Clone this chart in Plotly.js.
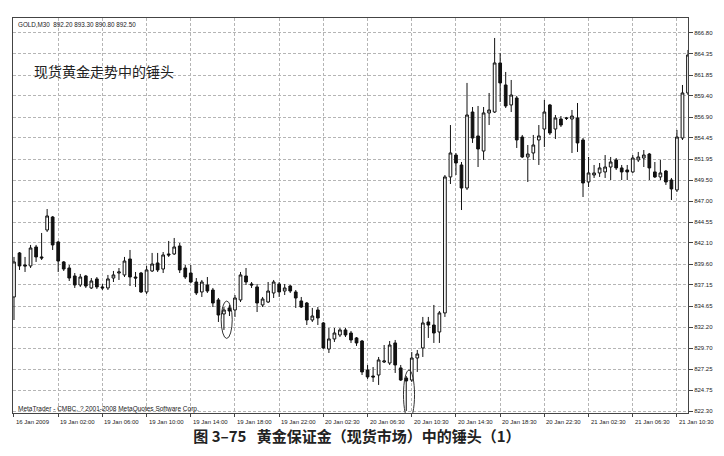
<!DOCTYPE html>
<html>
<head>
<meta charset="utf-8">
<script src="https://cdn.plot.ly/plotly-3.0.1.min.js"></script>
<style>
  html, body { margin: 0; padding: 0; background: #ffffff; }
  #chart { width: 724px; height: 456px; }
</style>
</head>
<body>
<div id="chart"></div>
<script>
// ---- data (GOLD, M30) ----
const opens = [835.74, 840.92, 839.50, 839.39, 841.62, 840.45, 843.62, 845.15, 842.21, 839.86,
  839.15, 838.21, 837.15, 838.21, 836.80, 837.86, 836.92, 836.80, 837.97, 838.56,
  838.33, 840.21, 838.09, 838.56, 836.33, 838.80, 839.74, 839.03, 840.80, 840.80,
  841.74, 839.15, 838.56, 837.50, 836.33, 837.15, 836.56, 835.39, 833.74, 834.45,
  834.21, 835.39, 838.21, 837.27, 836.92, 834.80, 835.15, 836.21, 837.27, 836.44,
  837.03, 836.33, 835.27, 835.03, 833.03, 834.21, 832.68, 829.62, 830.80, 831.27,
  831.86, 831.50, 830.92, 830.56, 827.15, 826.44, 826.56, 828.09, 827.97, 830.33,
  827.39, 826.21, 825.97, 828.56, 829.74, 832.80, 832.44, 831.62, 833.86, 849.86,
  852.44, 851.27, 848.56, 857.50, 854.68, 852.91, 857.39, 857.50, 863.27, 860.68,
  858.33, 859.15, 854.56, 852.21, 852.68, 854.21, 855.50, 858.33, 855.50, 856.68,
  856.80, 856.68, 856.80, 854.21, 849.27, 850.09, 850.33, 850.45, 851.03, 851.86,
  850.92, 850.68, 850.45, 851.86, 852.09, 852.56, 850.45, 849.86, 850.56, 849.50,
  848.33, 854.44, 859.74];
const highs = [840.45, 841.03, 840.45, 841.86, 841.86, 843.27, 846.09, 845.27, 842.33, 839.97,
  839.50, 838.56, 838.45, 838.33, 837.97, 838.09, 837.27, 838.33, 838.80, 839.15,
  840.45, 841.27, 838.68, 838.68, 839.39, 840.92, 840.92, 841.03, 842.33, 842.68,
  842.09, 839.50, 839.50, 837.97, 837.74, 838.09, 836.80, 835.62, 834.56, 834.80,
  835.97, 838.68, 839.15, 837.50, 837.27, 835.74, 837.50, 837.74, 837.50, 837.27,
  837.15, 836.56, 835.74, 835.15, 834.45, 834.56, 832.80, 832.09, 832.09, 832.09,
  832.09, 831.74, 831.03, 830.68, 827.74, 827.50, 828.68, 830.09, 830.56, 830.68,
  827.74, 826.44, 829.27, 829.50, 833.39, 833.39, 834.80, 834.09, 850.09, 855.97,
  852.68, 851.62, 860.92, 858.09, 858.21, 858.09, 859.74, 866.21, 864.45, 862.21,
  861.27, 859.39, 854.80, 853.62, 854.80, 855.97, 858.92, 858.45, 857.15, 857.03,
  856.92, 857.74, 858.56, 854.44, 852.21, 851.27, 851.50, 852.44, 852.21, 852.09,
  851.27, 851.27, 852.44, 852.80, 853.03, 852.68, 851.62, 851.86, 850.68, 849.74,
  855.39, 860.68, 864.80];
const lows = [833.03, 838.92, 838.68, 839.15, 839.86, 840.09, 843.39, 841.27, 838.68, 838.80,
  837.62, 836.80, 836.92, 836.80, 836.68, 836.68, 836.56, 836.56, 837.50, 837.74,
  838.09, 837.03, 836.92, 836.21, 836.09, 838.68, 838.68, 838.56, 840.45, 840.68,
  838.56, 837.86, 837.39, 835.97, 835.74, 836.21, 834.56, 832.80, 831.86, 833.50,
  833.39, 835.15, 837.15, 836.80, 833.97, 834.56, 835.03, 835.62, 835.74, 835.97,
  836.21, 834.45, 834.45, 832.44, 832.80, 832.44, 829.62, 829.15, 830.45, 831.03,
  831.03, 830.33, 829.98, 826.56, 826.09, 825.74, 825.39, 827.97, 827.74, 826.80,
  825.86, 822.33, 825.74, 826.92, 828.68, 830.92, 830.33, 830.33, 833.39, 849.03,
  850.09, 845.97, 848.33, 853.86, 851.03, 851.86, 855.97, 857.39, 858.68, 857.97,
  857.50, 853.27, 852.09, 849.27, 851.86, 851.27, 853.39, 854.80, 854.33, 855.74,
  856.56, 852.68, 852.80, 847.50, 848.68, 849.74, 849.86, 849.74, 849.50, 850.68,
  849.50, 849.50, 850.33, 851.62, 851.03, 849.50, 849.74, 849.50, 848.92, 847.15,
  848.09, 854.21, 859.50];
const closes = [839.86, 839.39, 839.39, 841.50, 840.45, 840.33, 845.27, 841.86, 839.97, 839.03,
  837.97, 837.15, 838.09, 837.03, 837.62, 836.92, 836.80, 837.86, 838.33, 838.68,
  839.97, 838.09, 837.97, 836.33, 838.92, 839.62, 838.92, 840.68, 840.68, 841.62,
  838.92, 838.09, 837.50, 836.21, 837.50, 836.44, 835.03, 833.62, 834.21, 834.09,
  835.62, 838.33, 837.50, 837.15, 835.03, 835.50, 836.44, 837.50, 836.33, 836.80,
  836.44, 835.62, 834.56, 833.03, 833.50, 833.27, 829.74, 830.80, 831.50, 831.86,
  831.27, 830.68, 830.33, 826.92, 826.33, 826.33, 828.33, 828.21, 830.09, 827.74,
  825.97, 825.86, 828.56, 829.03, 832.68, 832.44, 831.50, 833.86, 849.86, 852.68,
  851.50, 848.56, 857.15, 854.44, 853.15, 857.39, 857.74, 863.27, 860.92, 858.21,
  859.50, 854.21, 852.21, 852.56, 853.62, 854.68, 857.50, 855.03, 856.80, 855.97,
  856.76, 857.03, 853.86, 849.15, 850.33, 850.33, 850.92, 851.03, 851.62, 850.92,
  850.45, 850.45, 852.09, 852.21, 852.44, 850.92, 849.86, 850.33, 849.27, 848.45,
  854.56, 859.74, 864.21];

const tickBars = [0, 8, 16, 24, 32, 40, 48, 56, 64, 72, 80, 88, 96, 104, 112, 120];
const tickLabels = ["16 Jan 2009", "19 Jan 02:00", "19 Jan 06:00", "19 Jan 10:00", "19 Jan 14:00",
  "19 Jan 18:00", "19 Jan 22:00", "20 Jan 02:30", "20 Jan 06:30", "20 Jan 10:30", "20 Jan 14:30",
  "20 Jan 18:30", "20 Jan 22:30", "21 Jan 02:30", "21 Jan 06:30", "21 Jan 10:30"];
const priceTicks = [822.30, 824.75, 827.25, 829.70, 832.20, 834.65, 837.15, 839.60, 842.10, 844.55,
  847.00, 849.50, 851.95, 854.45, 856.90, 859.40, 861.85, 864.35, 866.80];
const hammerBars = [38, 71];

const headerText = "GOLD,M30  892.20 893.30 890.80 892.50";
const noteText = "现货黄金走势中的锤头";
const footerText = "MetaTrader - CMBC, ? 2001-2008 MetaQuotes Software Corp.";
const captionText = "图 3–75   黄金保证金（现货市场）中的锤头（1）";

// ---- chart ----
const bars = opens.map((_, i) => i);
const smallFont = { family: "Liberation Sans, Arial, sans-serif", size: 6, color: "#222" };

const trace = {
  type: "candlestick",
  x: bars, open: opens, high: highs, low: lows, close: closes,
  increasing: { line: { color: "#111", width: 1 }, fillcolor: "#ffffff" },
  decreasing: { line: { color: "#111", width: 1 }, fillcolor: "#111111" },
  whiskerwidth: 0,
  hoverinfo: "skip",
  showlegend: false
};

const annotations = tickBars.map((b, k) => ({
  x: b, xref: "x", y: -0.024, yref: "paper",
  text: tickLabels[k], showarrow: false, xanchor: "left", yanchor: "middle",
  font: smallFont
}));
annotations.push({
  x: 0.004, xref: "paper", y: 0.9835, yref: "paper", text: headerText,
  showarrow: false, xanchor: "left", yanchor: "middle",
  font: { family: "Liberation Sans, Arial, sans-serif", size: 6.3, color: "#222" }
});
annotations.push({
  x: 0.028, xref: "paper", y: 0.866, yref: "paper", text: noteText,
  showarrow: false, xanchor: "left", yanchor: "middle",
  font: { family: "Noto Sans CJK SC", size: 14, color: "#222" }
});
annotations.push({
  x: 0.004, xref: "paper", y: 0.011, yref: "paper", text: footerText,
  showarrow: false, xanchor: "left", yanchor: "middle",
  font: { family: "Liberation Sans, Arial, sans-serif", size: 6.5, color: "#222" }
});

const shapes = hammerBars.map(i => ({
  type: "circle", xref: "x", yref: "y",
  x0: i - 0.5, x1: i + 1.5,
  y0: lows[i] - 1.0, y1: highs[i] + 0.7,
  line: { color: "#333", width: 1 }, layer: "above"
}));

const layout = {
  width: 724, height: 456,
  margin: { l: 13, r: 36, t: 18, b: 43, pad: 0 },
  paper_bgcolor: "#ffffff", plot_bgcolor: "#ffffff",
  boxgap: 0.3,
  title: {
    text: captionText, x: 0.493, xanchor: "center", y: 0.042, yanchor: "middle",
    font: { family: "Noto Sans CJK SC", size: 15, color: "#222", weight: "bold" }
  },
  xaxis: {
    range: [-0.18, 122], tickvals: tickBars, showticklabels: false,
    ticks: "outside", ticklen: 3, tickcolor: "#444",
    showgrid: true, gridcolor: "#b5b5b5", griddash: "3px,2px", gridwidth: 1,
    showline: true, linecolor: "#444", linewidth: 1, mirror: true,
    zeroline: false, rangeslider: { visible: false }, fixedrange: true
  },
  yaxis: {
    side: "right", range: [822.09, 868.56],
    tickvals: priceTicks, ticktext: priceTicks.map(v => v.toFixed(2)),
    ticks: "outside", ticklen: 4, tickcolor: "#444",
    tickfont: smallFont,
    showgrid: true, gridcolor: "#b5b5b5", griddash: "3px,2px", gridwidth: 1,
    showline: true, linecolor: "#444", linewidth: 1, mirror: true,
    zeroline: false, fixedrange: true
  },
  annotations: annotations,
  shapes: shapes
};

Plotly.newPlot("chart", [trace], layout, { staticPlot: true, displayModeBar: false });
</script>
</body>
</html>
